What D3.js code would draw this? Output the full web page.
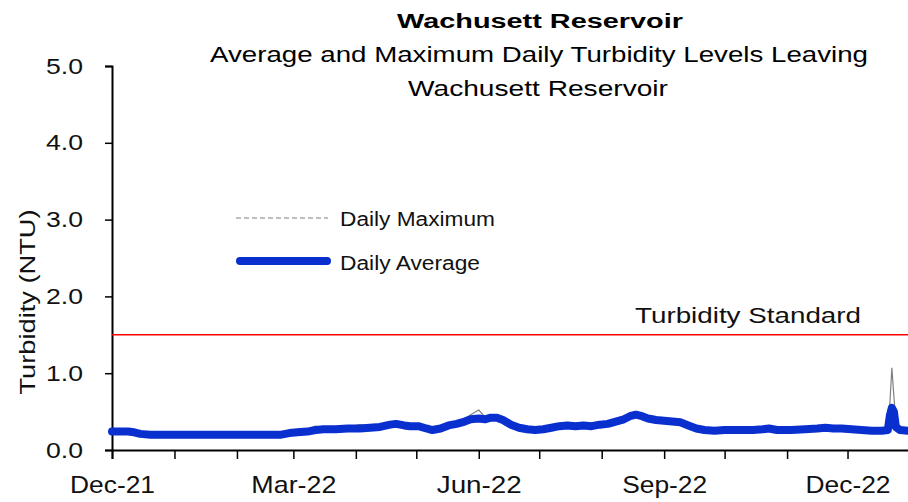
<!DOCTYPE html>
<html>
<head>
<meta charset="utf-8">
<script src="https://cdn.jsdelivr.net/npm/d3@7"></script>
<style>
  body { margin: 0; background: #fff; }
  svg { font-family: Arial, "Liberation Sans", sans-serif; }
</style>
</head>
<body>
<svg id="chart" width="908" height="502"></svg>
<script>
// data
var dates = ["2021-12-01","2021-12-05","2021-12-09","2021-12-12","2021-12-15","2021-12-20","2022-01-01","2022-01-15","2022-02-01","2022-02-15","2022-02-23","2022-02-27",
  "2022-03-03","2022-03-08","2022-03-12","2022-03-16","2022-03-22","2022-03-28","2022-04-03","2022-04-08","2022-04-13","2022-04-18","2022-04-21","2022-04-25","2022-04-28",
  "2022-05-02","2022-05-06","2022-05-09","2022-05-13","2022-05-17","2022-05-21","2022-05-25","2022-05-28","2022-06-01","2022-06-04","2022-06-07","2022-06-10","2022-06-13",
  "2022-06-17","2022-06-21","2022-06-25","2022-06-29","2022-07-03","2022-07-07","2022-07-11","2022-07-15","2022-07-19","2022-07-23","2022-07-27","2022-07-31",
  "2022-08-04","2022-08-08","2022-08-12","2022-08-15","2022-08-18","2022-08-21","2022-08-24","2022-08-28","2022-09-01","2022-09-05","2022-09-09","2022-09-13",
  "2022-09-17","2022-09-21","2022-09-26","2022-10-01","2022-10-08","2022-10-15","2022-10-20","2022-10-23","2022-10-27","2022-11-03","2022-11-10","2022-11-16",
  "2022-11-20","2022-11-24","2022-11-28","2022-12-03","2022-12-08","2022-12-13","2022-12-18","2022-12-21","2022-12-22","2022-12-23","2022-12-24","2022-12-25","2022-12-27","2022-12-31"];
var dailyAvg = [0.24,0.24,0.24,0.23,0.21,0.20,0.20,0.20,0.20,0.20,0.20,0.22,
  0.23,0.24,0.26,0.27,0.27,0.28,0.28,0.29,0.30,0.33,0.34,0.32,0.31,
  0.31,0.28,0.26,0.28,0.32,0.34,0.37,0.40,0.41,0.40,0.42,0.42,0.39,
  0.33,0.29,0.27,0.26,0.27,0.29,0.31,0.32,0.31,0.32,0.31,0.33,
  0.34,0.37,0.40,0.44,0.46,0.44,0.41,0.39,0.38,0.37,0.36,0.32,
  0.28,0.26,0.25,0.26,0.26,0.26,0.27,0.28,0.26,0.26,0.27,0.28,
  0.29,0.28,0.28,0.27,0.26,0.25,0.25,0.26,0.45,0.55,0.50,0.30,0.26,0.25];
var dailyMax = [0.26,0.26,0.26,0.25,0.23,0.22,0.22,0.22,0.22,0.22,0.22,0.24,
  0.25,0.26,0.31,0.29,0.29,0.30,0.33,0.31,0.32,0.36,0.38,0.34,0.33,
  0.33,0.30,0.28,0.30,0.34,0.36,0.40,0.46,0.52,0.43,0.44,0.44,0.41,
  0.35,0.31,0.29,0.28,0.29,0.31,0.33,0.34,0.33,0.34,0.33,0.35,
  0.36,0.39,0.42,0.47,0.50,0.46,0.43,0.41,0.40,0.39,0.38,0.34,
  0.30,0.28,0.27,0.28,0.28,0.28,0.29,0.31,0.28,0.28,0.29,0.31,
  0.31,0.30,0.30,0.29,0.28,0.27,0.27,0.28,0.60,1.07,0.70,0.33,0.28,0.27];
var yTicks = [0, 1, 2, 3, 4, 5];
var majorMonths = ["2021-12-01","2022-03-01","2022-06-01","2022-09-01","2022-12-01"];
var turbidityStandard = 1.5;

var svg = d3.select("#chart");
var parse = d3.timeParse("%Y-%m-%d");
var fmt = d3.timeFormat("%b-%y");

var plotLeft = 112, plotRight = 910, plotTop = 66, plotBottom = 450;

var x = d3.scaleTime()
    .domain([parse("2021-12-01"), parse("2023-01-01")])
    .range([plotLeft, plotRight]);
var y = d3.scaleLinear().domain([0, 5]).range([plotBottom, plotTop]);

var rows = dates.map(function(d, i){
    return {date: parse(d), avg: dailyAvg[i], max: dailyMax[i]};
});
var majors = majorMonths.map(function(d){ return +parse(d); });

// titles
svg.append("text").attr("x", 540).attr("y", 28).attr("text-anchor", "middle")
    .attr("font-size", 20).attr("font-weight", "bold")
    .attr("textLength", 286).attr("lengthAdjust", "spacingAndGlyphs")
    .text("Wachusett Reservoir");
svg.append("text").attr("x", 539).attr("y", 62).attr("text-anchor", "middle")
    .attr("font-size", 22)
    .attr("textLength", 658).attr("lengthAdjust", "spacingAndGlyphs")
    .text("Average and Maximum Daily Turbidity Levels Leaving");
svg.append("text").attr("x", 538).attr("y", 96).attr("text-anchor", "middle")
    .attr("font-size", 22)
    .attr("textLength", 260).attr("lengthAdjust", "spacingAndGlyphs")
    .text("Wachusett Reservoir");

// y axis
var yAxis = svg.append("g").attr("transform", "translate(" + plotLeft + ",0)")
    .call(d3.axisLeft(y).tickValues(yTicks).tickFormat(d3.format(".1f")).tickSizeOuter(0).tickSize(7).tickPadding(22));
yAxis.select(".domain").attr("stroke", "#000").attr("stroke-width", 2);
yAxis.selectAll(".tick line").attr("stroke", "#000").attr("stroke-width", 1.5);
yAxis.selectAll(".tick text").attr("font-size", 22).attr("fill", "#111")
    .attr("font-family", "Arial, 'Liberation Sans', sans-serif")
    .attr("textLength", 37).attr("lengthAdjust", "spacingAndGlyphs");

svg.append("text")
    .attr("transform", "translate(35," + 302 + ") rotate(-90)")
    .attr("text-anchor", "middle").attr("font-size", 22).attr("fill", "#111")
    .attr("textLength", 185).attr("lengthAdjust", "spacingAndGlyphs")
    .text("Turbidity (NTU)");

// x axis
var xAxis = svg.append("g").attr("transform", "translate(0," + plotBottom + ")")
    .call(d3.axisBottom(x).ticks(d3.timeMonth.every(1)).tickSizeOuter(0).tickSize(9).tickPadding(17)
        .tickFormat(function(d){ return majors.indexOf(+d) >= 0 ? fmt(d) : ""; }));
xAxis.select(".domain").attr("stroke", "#000").attr("stroke-width", 2);
xAxis.selectAll(".tick line").attr("stroke", "#000").attr("stroke-width", 1.5);
xAxis.selectAll(".tick text").attr("font-size", 24).attr("fill", "#111")
    .attr("font-family", "Arial, 'Liberation Sans', sans-serif")
    .filter(function(d){ return majors.indexOf(+d) >= 0; })
    .attr("textLength", 85).attr("lengthAdjust", "spacingAndGlyphs");

// turbidity standard
svg.append("line")
    .attr("x1", plotLeft).attr("x2", 908)
    .attr("y1", y(turbidityStandard)).attr("y2", y(turbidityStandard))
    .attr("stroke", "#ff0000").attr("stroke-width", 1.5);
svg.append("text").attr("x", 635).attr("y", 323).attr("font-size", 22).attr("fill", "#111")
    .attr("textLength", 226).attr("lengthAdjust", "spacingAndGlyphs")
    .text("Turbidity Standard");

// series
var maxLine = d3.line().x(function(d){ return x(d.date); }).y(function(d){ return y(d.max); });
var avgLine = d3.line().x(function(d){ return x(d.date); }).y(function(d){ return y(d.avg); });

svg.append("path").datum(rows).attr("d", maxLine)
    .attr("fill", "none").attr("stroke", "#808080").attr("stroke-width", 1.2);
svg.append("path").datum(rows).attr("d", avgLine)
    .attr("fill", "none").attr("stroke", "#0a2fcf").attr("stroke-width", 8)
    .attr("stroke-linejoin", "round").attr("stroke-linecap", "round");

// legend
svg.append("line").attr("x1", 236).attr("x2", 328).attr("y1", 218).attr("y2", 218)
    .attr("stroke", "#808080").attr("stroke-width", 1.2).attr("stroke-dasharray", "5,3");
svg.append("text").attr("x", 340).attr("y", 226).attr("font-size", 20).attr("fill", "#111")
    .attr("textLength", 155).attr("lengthAdjust", "spacingAndGlyphs")
    .text("Daily Maximum");
svg.append("line").attr("x1", 240).attr("x2", 327).attr("y1", 261).attr("y2", 261)
    .attr("stroke", "#0a2fcf").attr("stroke-width", 8).attr("stroke-linecap", "round");
svg.append("text").attr("x", 340).attr("y", 270).attr("font-size", 20).attr("fill", "#111")
    .attr("textLength", 140).attr("lengthAdjust", "spacingAndGlyphs")
    .text("Daily Average");
</script>
</body>
</html>
